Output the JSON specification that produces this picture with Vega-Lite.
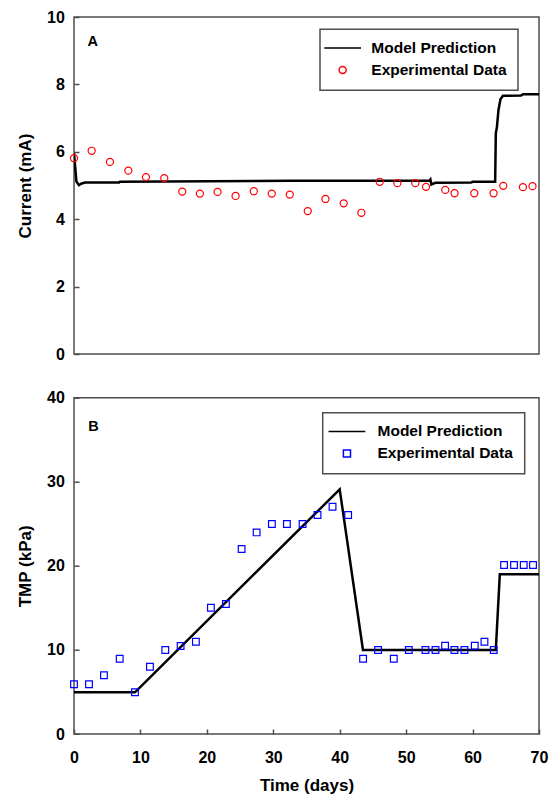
{
  "$schema": "https://vega.github.io/schema/vega-lite/v6.json",
  "padding": {"left": 15, "top": 8, "right": 8, "bottom": 0},
  "background": "white",
  "bounds": "flush",
  "spacing": 43.7,
  "config": {
    "font": "Liberation Sans",
    "view": {"stroke": "#4d4d4d", "strokeWidth": 1.5},
    "axis": {
      "grid": false,
      "domain": false,
      "labelFont": "Liberation Sans",
      "labelFontSize": 16,
      "labelFontWeight": "bold",
      "labelColor": "black",
      "titleFont": "Liberation Sans",
      "titleFontSize": 17,
      "titleFontWeight": "bold",
      "titleColor": "black",
      "tickSize": -5,
      "tickWidth": 1.5,
      "tickColor": "#4d4d4d",
      "labelFlush": false
    },
    "axisY": {"labelPadding": 14.6, "titlePadding": 12},
    "axisX": {"labelPadding": 20, "titlePadding": 12},
    "legend": {
      "orient": "none",
      "padding": 11,
      "strokeColor": "#4d4d4d",
      "strokeWidth": 1.5,
      "fillColor": "white",
      "labelFont": "Liberation Sans",
      "labelFontSize": 15.5,
      "labelFontWeight": "bold",
      "labelColor": "black",
      "symbolSize": 50,
      "rowPadding": 5
    },
    "title": {"font": "Liberation Sans", "fontWeight": "bold", "fontSize": 14.5, "color": "black"}
  },
  "datasets": {
    "currentModel": [
      {"day": 0, "current": 5.96},
      {"day": 0.36, "current": 5.12},
      {"day": 0.75, "current": 5.01},
      {"day": 1.16, "current": 5.06},
      {"day": 1.65, "current": 5.09},
      {"day": 6.8, "current": 5.09},
      {"day": 6.9, "current": 5.11},
      {"day": 33, "current": 5.14},
      {"day": 53.5, "current": 5.14},
      {"day": 53.65, "current": 5.18},
      {"day": 53.8, "current": 5.03},
      {"day": 54.4, "current": 5.08},
      {"day": 59.8, "current": 5.09},
      {"day": 60, "current": 5.11},
      {"day": 63.4, "current": 5.11},
      {"day": 63.5, "current": 6.55},
      {"day": 63.67, "current": 6.74},
      {"day": 63.9, "current": 7.24},
      {"day": 64.2, "current": 7.56},
      {"day": 64.57, "current": 7.66},
      {"day": 67.3, "current": 7.67},
      {"day": 67.6, "current": 7.71},
      {"day": 70, "current": 7.71}
    ],
    "currentExp": [
      {"day": 0, "current": 5.81, "series": "Experimental Data"},
      {"day": 2.66, "current": 6.03, "series": "Experimental Data"},
      {"day": 5.41, "current": 5.7, "series": "Experimental Data"},
      {"day": 8.18, "current": 5.44, "series": "Experimental Data"},
      {"day": 10.83, "current": 5.25, "series": "Experimental Data"},
      {"day": 13.59, "current": 5.22, "series": "Experimental Data"},
      {"day": 16.3, "current": 4.82, "series": "Experimental Data"},
      {"day": 18.95, "current": 4.76, "series": "Experimental Data"},
      {"day": 21.61, "current": 4.81, "series": "Experimental Data"},
      {"day": 24.32, "current": 4.69, "series": "Experimental Data"},
      {"day": 27.07, "current": 4.83, "series": "Experimental Data"},
      {"day": 29.77, "current": 4.76, "series": "Experimental Data"},
      {"day": 32.48, "current": 4.73, "series": "Experimental Data"},
      {"day": 35.19, "current": 4.24, "series": "Experimental Data"},
      {"day": 37.85, "current": 4.6, "series": "Experimental Data"},
      {"day": 40.6, "current": 4.47, "series": "Experimental Data"},
      {"day": 43.26, "current": 4.19, "series": "Experimental Data"},
      {"day": 46.02, "current": 5.11, "series": "Experimental Data"},
      {"day": 48.68, "current": 5.07, "series": "Experimental Data"},
      {"day": 51.38, "current": 5.07, "series": "Experimental Data"},
      {"day": 52.99, "current": 4.96, "series": "Experimental Data"},
      {"day": 55.89, "current": 4.87, "series": "Experimental Data"},
      {"day": 57.29, "current": 4.77, "series": "Experimental Data"},
      {"day": 60.26, "current": 4.77, "series": "Experimental Data"},
      {"day": 63.16, "current": 4.77, "series": "Experimental Data"},
      {"day": 64.62, "current": 4.99, "series": "Experimental Data"},
      {"day": 67.58, "current": 4.95, "series": "Experimental Data"},
      {"day": 69.02, "current": 4.98, "series": "Experimental Data"}
    ],
    "tmpModel": [
      {"day": 0, "tmp": 4.96},
      {"day": 9.18, "tmp": 4.96},
      {"day": 40, "tmp": 29.1},
      {"day": 43.5, "tmp": 10.0},
      {"day": 63.5, "tmp": 10.0},
      {"day": 64.1, "tmp": 19.0},
      {"day": 70, "tmp": 19.0}
    ],
    "tmpExp": [
      {"day": 0, "tmp": 5.91, "series": "Experimental Data"},
      {"day": 2.26, "tmp": 5.91, "series": "Experimental Data"},
      {"day": 4.51, "tmp": 6.98, "series": "Experimental Data"},
      {"day": 6.88, "tmp": 8.95, "series": "Experimental Data"},
      {"day": 9.18, "tmp": 4.96, "series": "Experimental Data"},
      {"day": 11.43, "tmp": 8.0, "series": "Experimental Data"},
      {"day": 13.74, "tmp": 9.99, "series": "Experimental Data"},
      {"day": 16.05, "tmp": 10.46, "series": "Experimental Data"},
      {"day": 18.35, "tmp": 10.97, "series": "Experimental Data"},
      {"day": 20.61, "tmp": 15.02, "series": "Experimental Data"},
      {"day": 22.87, "tmp": 15.46, "series": "Experimental Data"},
      {"day": 25.23, "tmp": 22.0, "series": "Experimental Data"},
      {"day": 27.49, "tmp": 23.98, "series": "Experimental Data"},
      {"day": 29.79, "tmp": 24.97, "series": "Experimental Data"},
      {"day": 32.05, "tmp": 24.97, "series": "Experimental Data"},
      {"day": 34.41, "tmp": 24.97, "series": "Experimental Data"},
      {"day": 36.66, "tmp": 26.04, "series": "Experimental Data"},
      {"day": 38.92, "tmp": 27.03, "series": "Experimental Data"},
      {"day": 41.27, "tmp": 26.04, "series": "Experimental Data"},
      {"day": 43.52, "tmp": 8.95, "series": "Experimental Data"},
      {"day": 45.78, "tmp": 9.99, "series": "Experimental Data"},
      {"day": 48.14, "tmp": 8.95, "series": "Experimental Data"},
      {"day": 50.4, "tmp": 9.99, "series": "Experimental Data"},
      {"day": 52.91, "tmp": 9.99, "series": "Experimental Data"},
      {"day": 54.42, "tmp": 9.99, "series": "Experimental Data"},
      {"day": 55.86, "tmp": 10.5, "series": "Experimental Data"},
      {"day": 57.27, "tmp": 9.99, "series": "Experimental Data"},
      {"day": 58.78, "tmp": 9.99, "series": "Experimental Data"},
      {"day": 60.33, "tmp": 10.5, "series": "Experimental Data"},
      {"day": 61.79, "tmp": 10.97, "series": "Experimental Data"},
      {"day": 63.19, "tmp": 9.99, "series": "Experimental Data"},
      {"day": 64.74, "tmp": 20.1, "series": "Experimental Data"},
      {"day": 66.24, "tmp": 20.1, "series": "Experimental Data"},
      {"day": 67.7, "tmp": 20.1, "series": "Experimental Data"},
      {"day": 69.1, "tmp": 20.1, "series": "Experimental Data"}
    ]
  },
  "vconcat": [
    {
      "width": 465,
      "height": 337,
      "title": {"text": "A", "anchor": "start", "frame": "group", "orient": "top", "offset": -51.4, "dx": 13.5, "baseline": "alphabetic"},
      "layer": [
        {
          "data": {"name": "currentModel"},
          "mark": {"type": "line", "color": "black", "strokeWidth": 2.5, "clip": true},
          "encoding": {
            "x": {"field": "day", "type": "quantitative", "scale": {"domain": [0, 70], "nice": false}, "axis": null},
            "y": {"field": "current", "type": "quantitative", "scale": {"domain": [0, 10], "nice": false}, "axis": {"title": "Current (mA)", "values": [0, 2, 4, 6, 8, 10]}}
          }
        },
        {
          "data": {"name": "currentExp"},
          "mark": {"type": "point", "filled": false, "strokeWidth": 1.2, "size": 50, "opacity": 1},
          "encoding": {
            "x": {"field": "day", "type": "quantitative"},
            "y": {"field": "current", "type": "quantitative"},
            "color": {
              "field": "series", "type": "nominal",
              "scale": {"domain": ["Model Prediction", "Experimental Data"], "range": ["black", "#ff0000"]},
              "legend": {"title": null, "legendX": 246, "legendY": 12.3, "symbolOffset": 3.9, "labelOffset": 20.9,
                "encode": {"symbols": {"update": {"strokeWidth": {"signal": "datum.value === 'Model Prediction' ? 2.5 : 1.2"}}}}}
            },
            "shape": {
              "field": "series", "type": "nominal",
              "scale": {"domain": ["Model Prediction", "Experimental Data"], "range": ["M-5.2,0H5.2", "circle"]},
              "legend": {"title": null, "legendX": 246, "legendY": 12.3, "symbolOffset": 3.9, "labelOffset": 20.9,
                "encode": {"symbols": {"update": {"strokeWidth": {"signal": "datum.value === 'Model Prediction' ? 2.5 : 1.2"}}}}}
            }
          }
        }
      ]
    },
    {
      "width": 465,
      "height": 336.3,
      "title": {"text": "B", "anchor": "start", "frame": "group", "orient": "top", "offset": -55.6, "dx": 14.3, "baseline": "alphabetic"},
      "layer": [
        {
          "data": {"name": "tmpModel"},
          "mark": {"type": "line", "color": "black", "strokeWidth": 2.5, "clip": true},
          "encoding": {
            "x": {"field": "day", "type": "quantitative", "scale": {"domain": [0, 70], "nice": false}, "axis": {"title": "Time (days)", "values": [0, 10, 20, 30, 40, 50, 60, 70]}},
            "y": {"field": "tmp", "type": "quantitative", "scale": {"domain": [0, 40], "nice": false}, "axis": {"title": "TMP (kPa)", "values": [0, 10, 20, 30, 40]}}
          }
        },
        {
          "data": {"name": "tmpExp"},
          "mark": {"type": "point", "filled": false, "strokeWidth": 1.2, "size": 45, "opacity": 1},
          "encoding": {
            "x": {"field": "day", "type": "quantitative"},
            "y": {"field": "tmp", "type": "quantitative"},
            "color": {
              "field": "series", "type": "nominal",
              "scale": {"domain": ["Model Prediction", "Experimental Data"], "range": ["black", "#0000ff"]},
              "legend": {"title": null, "legendX": 248.7, "legendY": 15, "symbolOffset": 5.5, "labelOffset": 22.8,
                "encode": {"symbols": {"update": {"strokeWidth": {"signal": "datum.value === 'Model Prediction' ? 2.5 : 1.2"}}}}}
            },
            "shape": {
              "field": "series", "type": "nominal",
              "scale": {"domain": ["Model Prediction", "Experimental Data"], "range": ["M-5.2,0H5.2", "square"]},
              "legend": {"title": null, "legendX": 248.7, "legendY": 15, "symbolOffset": 5.5, "labelOffset": 22.8,
                "encode": {"symbols": {"update": {"strokeWidth": {"signal": "datum.value === 'Model Prediction' ? 2.5 : 1.2"}}}}}
            }
          }
        }
      ]
    }
  ],
  "resolve": {
    "scale": {"x": "independent", "y": "independent", "color": "independent", "shape": "independent"},
    "legend": {"color": "independent", "shape": "independent"}
  }
}
